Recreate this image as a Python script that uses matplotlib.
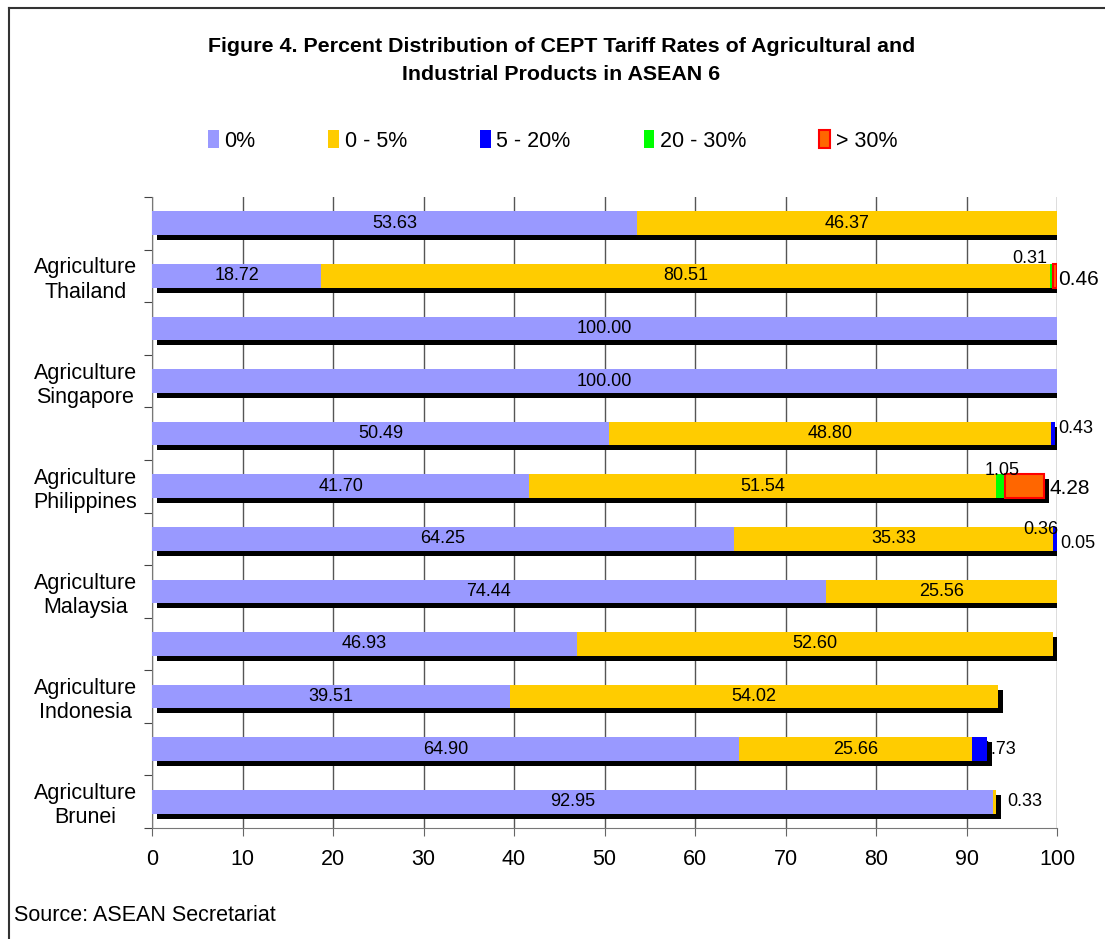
import matplotlib.pyplot as plt
import matplotlib.patheffects as pe
from matplotlib.lines import Line2D
from matplotlib.patches import Patch
import numpy as np

plt.rcParams['font.family'] = ['Liberation Sans', 'DejaVu Sans']

# bars listed top to bottom
tick_labels = ['', 'Agriculture\nThailand', '', 'Agriculture\nSingapore',
               '', 'Agriculture\nPhilippines', '', 'Agriculture\nMalaysia',
               '', 'Agriculture\nIndonesia', '', 'Agriculture\nBrunei']
series = ['0%', '0 - 5%', '5 - 20%', '20 - 30%', '> 30%']
zero = [53.63, 18.72, 100.00, 100.00, 50.49, 41.70, 64.25, 74.44, 46.93, 39.51, 64.90, 92.95]
low = [46.37, 80.51, 0, 0, 48.80, 51.54, 35.33, 25.56, 52.60, 54.02, 25.66, 0.33]
mid = [0, 0, 0, 0, 0.43, 0, 0.36, 0, 0, 0, 1.73, 0]
high = [0, 0.31, 0, 0, 0, 1.05, 0.05, 0, 0, 0, 0, 0]
top = [0, 0.46, 0, 0, 0, 4.28, 0, 0, 0, 0, 0, 0]

colors = ['#9999FF', '#FFCC00', '#0000FF', '#00FF00', '#FF6600']
edges = ['none', 'none', 'none', 'none', '#FF0000']

# placement of labels for thin segments: (bar, series, dx from segment end, dy, ha, size)
small_labels = [(1, 3, -0.6, -0.33, 'right', 13), (1, 4, 0.1, 0.07, 'left', 15),
                (4, 2, 0.4, -0.1, 'left', 13), (5, 3, -0.4, -0.3, 'center', 13),
                (5, 4, 0.6, 0.05, 'left', 15), (6, 2, 0.2, -0.17, 'right', 13),
                (6, 3, 0.4, 0.08, 'left', 13), (10, 2, -0.6, 0.0, 'left', 13),
                (11, 1, 1.2, 0.0, 'left', 13)]

data = np.array([zero, low, mid, high, top])
n = data.shape[1]
y = np.arange(n)

fig = plt.figure(figsize=(11.05, 9.39), dpi=100)
ax = fig.add_axes([0.1376, 0.1182, 0.819, 0.672])

shadow = [pe.SimplePatchShadow(offset=(3.3, -3.6), shadow_rgbFace='black', alpha=1.0), pe.Normal()]
left = np.zeros(n)
for k in range(len(series)):
    bars = ax.barh(y, data[k], left=left, height=0.45, color=colors[k],
                   edgecolor=edges[k], linewidth=1.5 if k == 4 else 0, zorder=3)
    for b, v in zip(bars, data[k]):
        if v > 0:
            b.set_path_effects(shadow)
        else:
            b.set_visible(False)
    for i in range(n):
        if data[k][i] >= 10:
            ax.text(left[i] + data[k][i] / 2, y[i], '%.2f' % data[k][i],
                    ha='center', va='center', fontsize=13, zorder=5)
    left = left + data[k]

ends = np.cumsum(data, axis=0)
for i, k, dx, dy, ha, fs in small_labels:
    ax.text(ends[k][i] + dx, y[i] + dy, '%.2f' % data[k][i], ha=ha, va='center',
            fontsize=fs, zorder=2 if i == 10 else 5)

ax.set_xlim(0, 100)
ax.set_ylim(n - 0.5, -0.5)
ax.set_xticks(np.arange(0, 101, 10))
ax.tick_params(axis='x', labelsize=15.5, length=6, pad=9, color='#666666')
ax.set_yticks(np.arange(-0.5, n, 1))
ax.set_yticklabels([])
ax.tick_params(axis='y', which='major', length=6, color='#444444')
ax.set_yticks(y, minor=True)
ax.set_yticklabels(tick_labels, minor=True, fontsize=15.5, ha='center')
ax.tick_params(axis='y', which='minor', length=0, pad=48)
ax.grid(axis='x', color='#555555', linewidth=1)
ax.set_axisbelow(True)
for s in ['top', 'right']:
    ax.spines[s].set_visible(False)
for s in ['left', 'bottom']:
    ax.spines[s].set_color('#777777')

handles = [Patch(facecolor=c, edgecolor=e if e != 'none' else c, linewidth=1.5 if e != 'none' else 0)
           for c, e in zip(colors, edges)]
fig.legend(handles, series, loc='center', bbox_to_anchor=(0.5, 0.85), ncol=5,
           frameon=False, fontsize=15.5, handlelength=0.5, handleheight=0.9,
           handletextpad=0.25, columnspacing=3.4)

fig.text(0.508, 0.950, 'Figure 4. Percent Distribution of CEPT Tariff Rates of Agricultural and',
         ha='center', va='center', fontsize=15.4, fontweight='bold')
fig.text(0.508, 0.921, 'Industrial Products in ASEAN 6',
         ha='center', va='center', fontsize=15.4, fontweight='bold')
fig.text(0.0127, 0.025, 'Source: ASEAN Secretariat', ha='left', va='center', fontsize=15.5)

fig.add_artist(Line2D([0.0081, 1.0], [0.9915, 0.9915], transform=fig.transFigure,
                      color='#333333', linewidth=1.5))
fig.add_artist(Line2D([0.0081, 0.0081], [0.0, 0.9915], transform=fig.transFigure,
                      color='#333333', linewidth=1.5))

fig.savefig('out.png', dpi=100)
